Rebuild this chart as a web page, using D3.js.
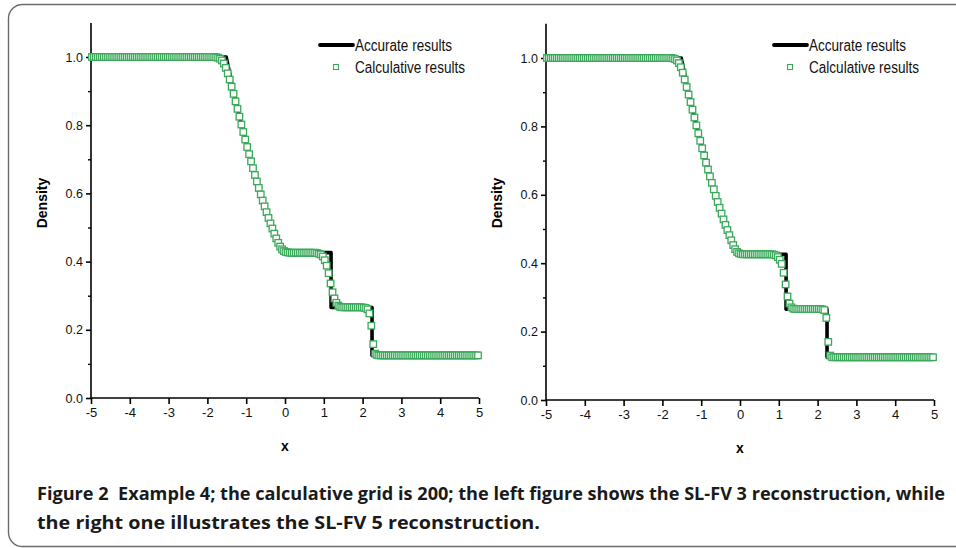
<!DOCTYPE html>
<html>
<head>
<meta charset="utf-8">
<script src="https://cdn.jsdelivr.net/npm/d3@7"></script>
<style>
  html, body { margin: 0; padding: 0; background: #fff; }
  svg { display: block; }
  .cap text { white-space: pre; }
</style>
</head>
<body>
<svg id="chart" width="956" height="548"></svg>
<script>
// ---------------- DATA ----------------
const xTicks = [-5, -4, -3, -2, -1, 0, 1, 2, 3, 4, 5];
const yTicks = [0, 0.2, 0.4, 0.6, 0.8, 1.0];
const yMinorTicks = [0.1, 0.3, 0.5, 0.7, 0.9];
const xLabel = "x";
const yLabel = "Density";
const legendLabels = ["Accurate results", "Calculative results"];
const captionLines = [
  "Figure 2  Example 4; the calculative grid is 200; the left figure shows the SL-FV 3 reconstruction, while",
  "the right one illustrates the SL-FV 5 reconstruction."
];

// exact (accurate) solution: x and density
const exactX = [-5, -1.515, -1.475, -1.375, -1.25, -1.125, -1.0, -0.875, -0.75, -0.625, -0.5, -0.375, -0.25, -0.125, -0.09, 1.187, 1.187, 2.243, 2.243, 5];
const exactY = [1, 1, 0.9784, 0.9255, 0.8627, 0.8032, 0.7472, 0.6943, 0.6444, 0.5975, 0.5533, 0.5117, 0.4728, 0.4362, 0.4263, 0.4263, 0.2656, 0.2656, 0.125, 0.125];

// 200 cell centres on [-5, 5]
const cellX = d3.range(200).map(i => -4.975 + 0.05 * i);

// SL-FV 3 (left) calculative density, one value per cell
const sl3Y = [
  1,1,1,1,1,1,1,1,1,1, 1,1,1,1,1,1,1,1,1,1, 1,1,1,1,1,1,1,1,1,1, 1,1,1,1,1,1,1,1,1,1,
  1,1,1,1,1,1,1,1,1,1, 1,1,1,1,1,1,1,1,1,1, 1,1,1,1,
  0.999,0.998,0.995,0.990,0.981,0.968,0.952,0.934,0.913,0.892,
  0.870,0.848,0.825,0.802,0.780,0.758,0.736,0.715,0.694,0.674,
  0.654,0.635,0.616,0.597,0.579,0.562,0.545,0.528,0.512,0.497,
  0.482,0.468,0.455,0.444,0.436,0.431,0.428,0.427,
  0.426,0.426,0.426,0.426,0.426,0.426,0.426,0.426,0.426,0.426,0.426,0.426,0.426,0.426,
  0.425,0.423,
  0.421,0.415,0.404,0.388,0.366,0.336,0.310,0.292,0.279,0.271,0.267,
  0.266,0.266,0.266,0.266,0.266,0.266,0.266,0.266,0.266,0.266,0.266,
  0.265,0.264,0.260,0.248,0.212,0.158,0.130,0.126,
  0.125,0.125,0.125,0.125,0.125,0.125,0.125,0.125,0.125,0.125,
  0.125,0.125,0.125,0.125,0.125,0.125,0.125,0.125,0.125,0.125,
  0.125,0.125,0.125,0.125,0.125,0.125,0.125,0.125,0.125,0.125,
  0.125,0.125,0.125,0.125,0.125,0.125,0.125,0.125,0.125,0.125,
  0.125,0.125,0.125,0.125,0.125,0.125,0.125,0.125,0.125,0.125,
  0.125,0.125
];

// SL-FV 5 (right) calculative density, one value per cell
const sl5Y = [
  1,1,1,1,1,1,1,1,1,1, 1,1,1,1,1,1,1,1,1,1, 1,1,1,1,1,1,1,1,1,1, 1,1,1,1,1,1,1,1,1,1,
  1,1,1,1,1,1,1,1,1,1, 1,1,1,1,1,1,1,1,1,1, 1,1,1,1,1,
  0.999,0.997,0.993,0.985,0.973,0.957,0.937,0.915,0.893,0.871,
  0.849,0.826,0.803,0.780,0.758,0.736,0.715,0.694,0.674,0.654,
  0.635,0.616,0.597,0.579,0.562,0.545,0.528,0.512,0.497,0.482,
  0.467,0.453,0.441,0.433,0.429,0.427,
  0.426,0.426,0.426,0.426,0.426,0.426,0.426,0.426,0.426,0.426,0.426,0.426,0.426,0.426,0.426,0.426,
  0.425,0.423,0.418,0.410,0.398,0.372,0.338,0.303,0.282,0.271,0.267,
  0.266,0.266,0.266,0.266,0.266,0.266,0.266,0.266,0.266,0.266,0.266,0.266,0.266,0.266,
  0.265,0.263,0.240,0.170,0.130,
  0.125,0.125,0.125,0.125,0.125,0.125,0.125,0.125,0.125,0.125,
  0.125,0.125,0.125,0.125,0.125,0.125,0.125,0.125,0.125,0.125,
  0.125,0.125,0.125,0.125,0.125,0.125,0.125,0.125,0.125,0.125,
  0.125,0.125,0.125,0.125,0.125,0.125,0.125,0.125,0.125,0.125,
  0.125,0.125,0.125,0.125,0.125,0.125,0.125,0.125,0.125,0.125,
  0.125,0.125,0.125
];

// ---------------- DRAW ----------------
const svg = d3.select("#chart");
const GREEN = "#3aa95a";
const FONT = "'Liberation Sans', Arial, sans-serif";

// frame
svg.append("rect")
  .attr("x", 8.5).attr("y", 4.5)
  .attr("width", 990).attr("height", 542)
  .attr("rx", 14).attr("ry", 14)
  .attr("fill", "none").attr("stroke", "#6b6b6b").attr("stroke-width", 1.4);

function drawPanel(cfg) {
  const x = d3.scaleLinear().domain([-5, 5]).range([cfg.x0, cfg.x1]);
  const y = d3.scaleLinear().domain([0, 1.1]).range([cfg.yBottom, cfg.yBottom - 1.1 * cfg.unit]);
  const g = svg.append("g");

  // x axis
  const xAxis = d3.axisBottom(x).tickValues(xTicks).tickSize(6).tickPadding(4)
    .tickFormat(d => String(d));
  const gx = g.append("g").attr("transform", `translate(0,${cfg.yBottom})`).call(xAxis);
  gx.select(".domain").attr("d", `M${cfg.x0},0H${cfg.x1}`).attr("stroke", "#000").attr("stroke-width", 1.6);
  gx.selectAll(".tick line").attr("stroke", "#000").attr("stroke-width", 1.6);
  gx.selectAll(".tick text").attr("font-family", FONT).attr("font-size", 13).attr("fill", "#111");

  // y axis
  const yAxis = d3.axisLeft(y).tickValues(yTicks).tickSize(5).tickPadding(3)
    .tickFormat(d3.format(".1f"));
  const gy = g.append("g").attr("transform", `translate(${cfg.x0},0)`).call(yAxis);
  gy.select(".domain").attr("d", `M0,${y(1.1)}V${cfg.yBottom}`).attr("stroke", "#000").attr("stroke-width", 1.6);
  gy.selectAll(".tick line").attr("stroke", "#000").attr("stroke-width", 1.6);
  gy.selectAll(".tick text").attr("font-family", FONT).attr("font-size", 12.5).attr("fill", "#111");
  const yMinor = d3.axisLeft(y).tickValues(yMinorTicks).tickSize(3).tickFormat("");
  const gym = g.append("g").attr("transform", `translate(${cfg.x0},0)`).call(yMinor);
  gym.select(".domain").remove();
  gym.selectAll(".tick line").attr("stroke", "#000").attr("stroke-width", 1.4);

  // axis titles
  g.append("text")
    .attr("transform", `translate(${cfg.yTitleX},${cfg.yTitleY}) rotate(-90)`)
    .attr("text-anchor", "middle").attr("dominant-baseline", "central")
    .attr("font-family", FONT).attr("font-weight", "bold").attr("font-size", 14)
    .text(yLabel);
  g.append("text")
    .attr("x", (cfg.x0 + cfg.x1) / 2).attr("y", cfg.yBottom + 53)
    .attr("text-anchor", "middle")
    .attr("font-family", FONT).attr("font-weight", "bold").attr("font-size", 14)
    .text(xLabel);

  // accurate line
  const line = d3.line().x(d => x(d[0])).y(d => y(d[1]));
  g.append("path")
    .datum(exactX.map((v, i) => [v, exactY[i]]))
    .attr("d", line)
    .attr("fill", "none").attr("stroke", "#000").attr("stroke-width", 3.6)
    .attr("stroke-linejoin", "round");

  // calculative squares
  const s = 6.5;
  g.append("g").selectAll("rect")
    .data(cellX.map((v, i) => [v, cfg.values[i]]))
    .join("rect")
    .attr("x", d => x(d[0]) - s / 2).attr("y", d => y(d[1]) - s / 2)
    .attr("width", s).attr("height", s)
    .attr("fill", "#fff").attr("stroke", GREEN).attr("stroke-width", 1.3);

  // legend
  const lg = g.append("g");
  lg.append("line")
    .attr("x1", cfg.legX).attr("x2", cfg.legX + 33)
    .attr("y1", 45).attr("y2", 45)
    .attr("stroke", "#000").attr("stroke-width", 3.8).attr("stroke-linecap", "round");
  lg.append("rect")
    .attr("x", cfg.legX + 16 - 2.5).attr("y", 67 - 2.5).attr("width", 5).attr("height", 5)
    .attr("fill", "#fff").attr("stroke", GREEN).attr("stroke-width", 1.1);
  lg.append("text")
    .attr("x", cfg.legX + 35).attr("y", 51)
    .attr("font-family", FONT).attr("font-size", 16).attr("fill", "#111")
    .attr("textLength", 97).attr("lengthAdjust", "spacingAndGlyphs")
    .text(legendLabels[0]);
  lg.append("text")
    .attr("x", cfg.legX + 35).attr("y", 73)
    .attr("font-family", FONT).attr("font-size", 16).attr("fill", "#111")
    .attr("textLength", 110).attr("lengthAdjust", "spacingAndGlyphs")
    .text(legendLabels[1]);
}

drawPanel({ x0: 91, x1: 479, yBottom: 398, unit: 341, yTitleX: 42, yTitleY: 203, legX: 320, values: sl3Y });
drawPanel({ x0: 546, x1: 934, yBottom: 400, unit: 342, yTitleX: 497, yTitleY: 203, legX: 774, values: sl5Y });

// caption
const cap = svg.append("g").attr("class", "cap")
  .attr("font-family", "'Open Sans', 'Noto Sans', sans-serif")
  .attr("font-weight", "bold").attr("font-size", 18).attr("fill", "#1a1a1a");
cap.append("text").attr("x", 37).attr("y", 500)
  .attr("xml:space", "preserve")
  .attr("textLength", 908).attr("lengthAdjust", "spacingAndGlyphs")
  .text(captionLines[0]);
cap.append("text").attr("x", 37).attr("y", 529)
  .attr("textLength", 503).attr("lengthAdjust", "spacingAndGlyphs")
  .text(captionLines[1]);
</script>
</body>
</html>
